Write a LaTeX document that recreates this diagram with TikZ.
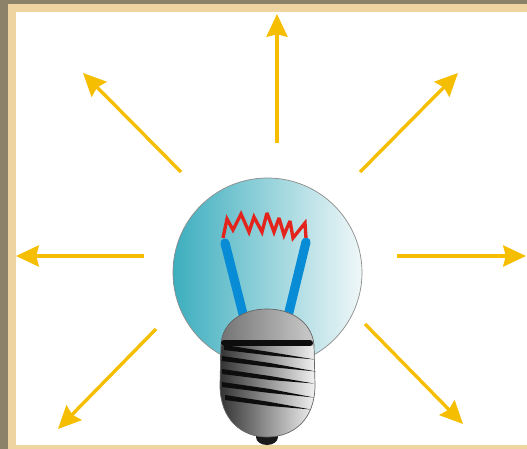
\documentclass[tikz,border=0pt]{standalone}
\usepackage{color}
\usetikzlibrary{arrows.meta}
\definecolor{frameout}{RGB}{139,130,105}
\definecolor{framein}{RGB}{238,212,160}
\definecolor{rayyellow}{RGB}{246,190,0}
\definecolor{wireblue}{RGB}{8,140,214}
\definecolor{coilred}{RGB}{226,36,28}
\definecolor{glassleft}{RGB}{60,174,190}
\definecolor{glassmid}{RGB}{150,210,222}
\definecolor{glassright}{RGB}{240,247,248}
\tikzset{
  ray/.style={draw=rayyellow, line width=1.9pt, -{Stealth[length=13pt, width=12pt, inset=1.5pt]}},
  thread/.style={fill=black!95}
}
\begin{document}
\begin{tikzpicture}[x=0.02cm, y=-0.02cm]
        \useasboundingbox (0,0) rectangle (527,449);

        % Cadre
        \fill[frameout] (0,0) rectangle (527,449);
        \fill[framein] (8,4) rectangle (527,449);
        \fill[white] (16,12) rectangle (527,445);

        % Rayons
        \draw[ray] (277,143) -- (277,14);
        \draw[ray] (181,172) -- (83,73);
        \draw[ray] (360,172) -- (458,73);
        \draw[ray] (144,256) -- (16,256);
        \draw[ray] (397,256) -- (526,256);
        \draw[ray] (156,329) -- (58,429);
        \draw[ray] (365,324) -- (463,424);

        % Ampoule
        \def\bulbx{267.5}
        \def\bulby{272.5}
        \def\bulbr{94.5}
        \shade[left color=glassleft, middle color=glassmid, right color=glassright] (\bulbx,\bulby) circle (\bulbr*0.02cm);
        \draw[black!45, line width=0.4pt] (\bulbx,\bulby) circle (\bulbr*0.02cm);

        % Fils
        \draw[wireblue, line width=5.2pt, line cap=round] (225,243) -- (244,318);
        \draw[wireblue, line width=5.2pt, line cap=round] (306,242) -- (288,316);

        % Filament
        \draw[coilred, line width=1.9pt, line join=miter, miter limit=3] (223,238) -- (227,219) -- (233,230) -- (241,214)
          -- (249,232) -- (254,217) -- (262,232) -- (267,213) -- (274,232) -- (279,218)
          -- (284,235) -- (290,221) -- (293,238) -- (305,223) -- (306,238);

        % Culot
        \fill[black!90] (267,437) ellipse (11 and 8);
        \def\capsule{(221,345) .. controls (222,322) and (243,309) .. (267,309)
          .. controls (291,309) and (312,322) .. (314,345) -- (315,385)
          .. controls (315,420) and (293,437) .. (267,437)
          .. controls (242,437) and (220,420) .. (220,385) -- cycle}
        \shade[left color=black!80, middle color=black!50, right color=black!5] \capsule;
        \begin{scope}
          \clip (215,300) rectangle (320,345);
          \shade[left color=black!55, middle color=black!75, right color=black!20] \capsule;
        \end{scope}
        \draw[black!60, line width=0.4pt] \capsule;

        % Filetage
        \draw[black!95, line width=3.4pt, line cap=round] (224,343) -- (310,343);
        \fill[thread] (224,345) -- (270,352) -- (315,359.5) -- (270,355.5) -- (224,350) -- cycle;
        \fill[thread] (222,356) -- (270,363) -- (316,371.5) -- (270,367) -- (222,361) -- cycle;
        \fill[thread] (222,369) -- (270,376) -- (314,383.5) -- (270,380) -- (222,374) -- cycle;
        \fill[thread] (222,382) -- (270,389) -- (314,397.5) -- (270,393) -- (222,387) -- cycle;
        \fill[thread] (225,395) -- (270,402) -- (311,409.5) -- (270,406) -- (225,400) -- cycle;
\end{tikzpicture}
\end{document}
